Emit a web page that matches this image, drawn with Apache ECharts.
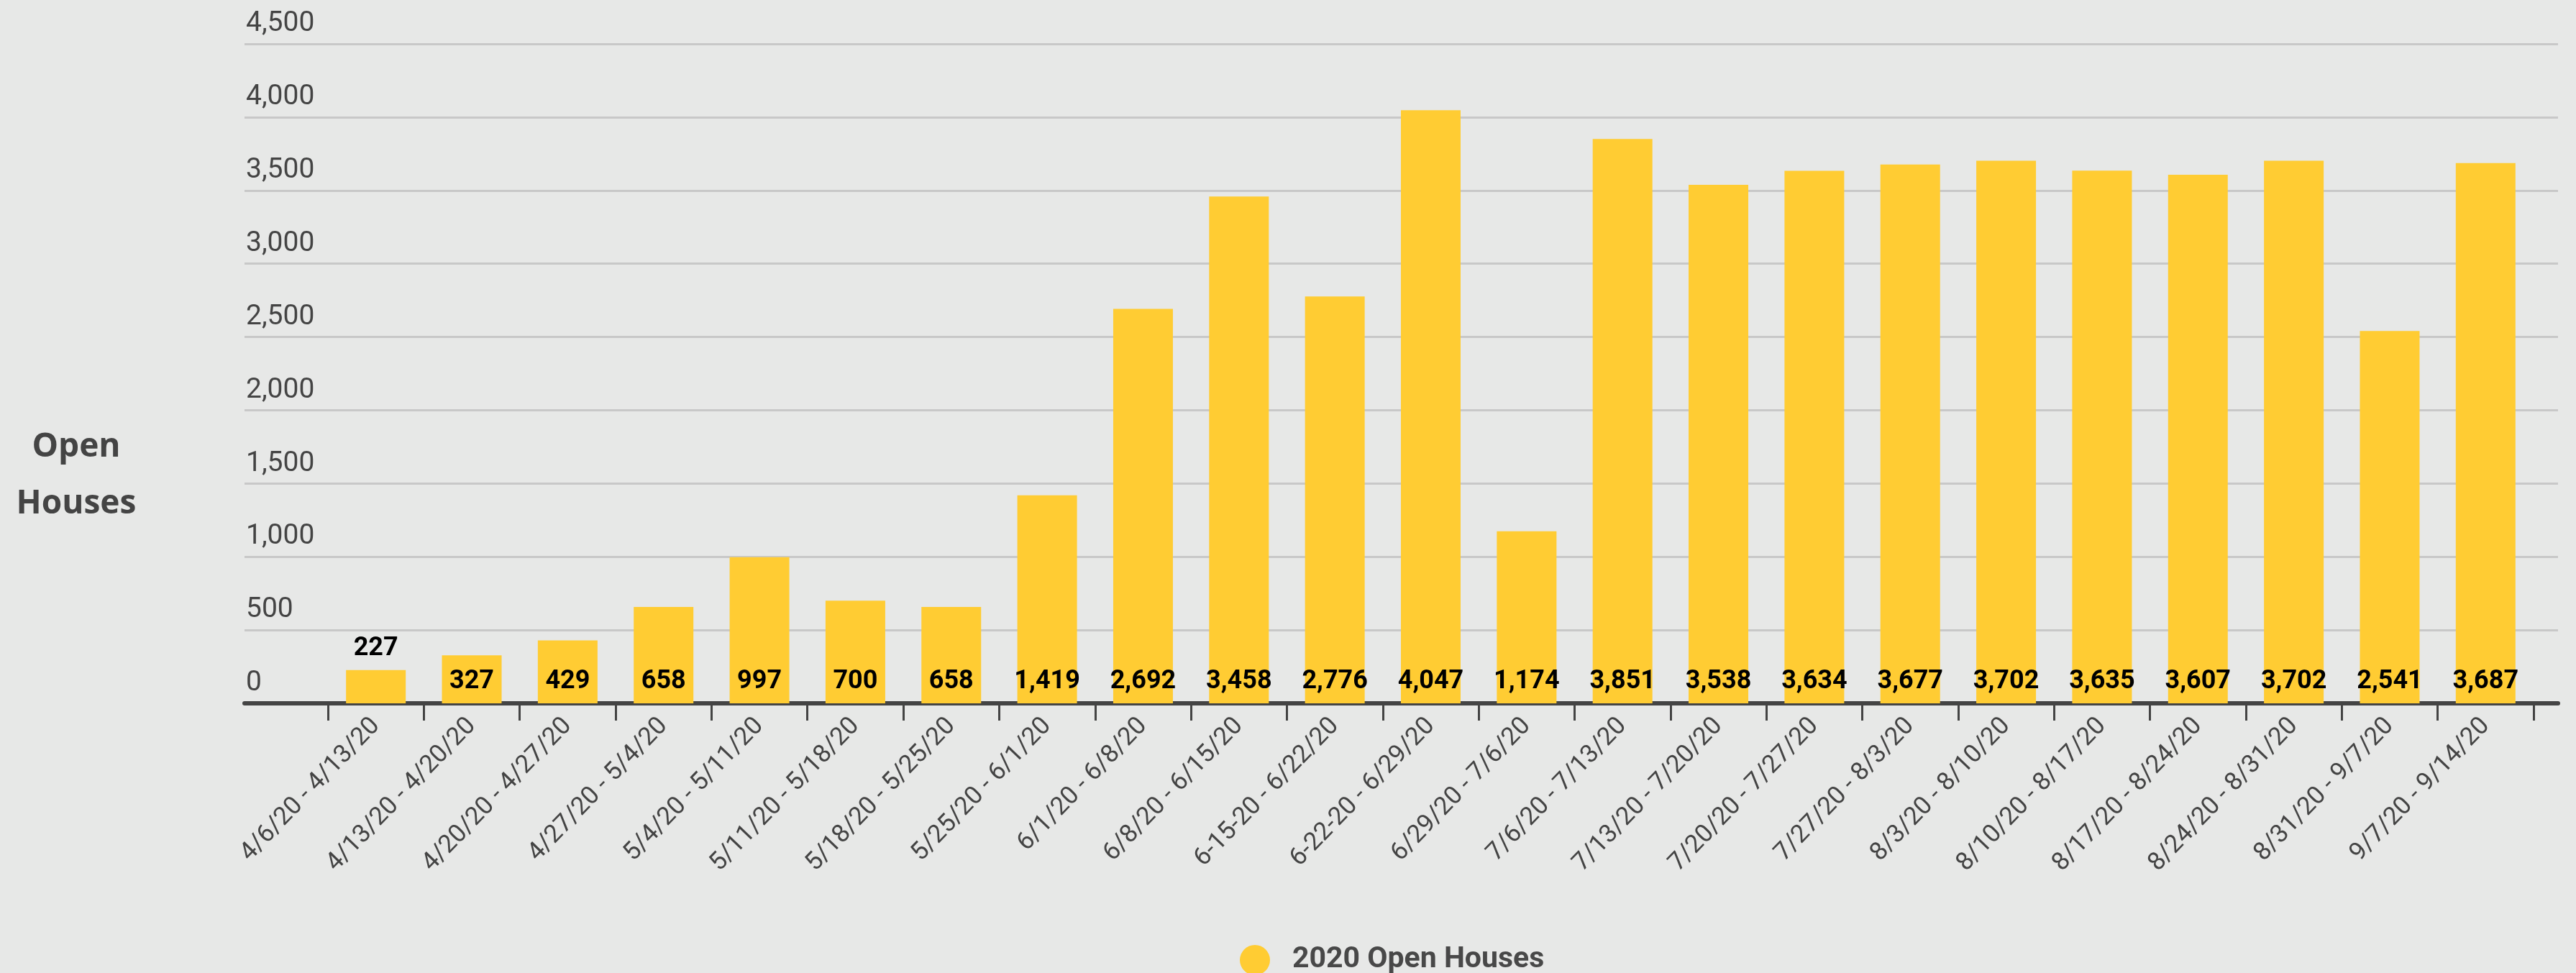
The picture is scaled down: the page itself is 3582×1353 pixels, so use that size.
<!DOCTYPE html>
<html>
<head>
<meta charset="utf-8">
<title>2020 Open Houses</title>
<script src="https://cdn.jsdelivr.net/npm/echarts@6/dist/echarts.min.js"></script>
<style>
  html, body { margin: 0; padding: 0; background: #e7e8e7; }
  #chart { width: 3582px; height: 1353px; }
</style>
</head>
<body>
<div id="chart"></div>
<script>
// weekly ranges shown on the x axis
const weeks = [
  '4/6/20 - 4/13/20', '4/13/20 - 4/20/20', '4/20/20 - 4/27/20', '4/27/20 - 5/4/20',
  '5/4/20 - 5/11/20', '5/11/20 - 5/18/20', '5/18/20 - 5/25/20', '5/25/20 - 6/1/20',
  '6/1/20 - 6/8/20', '6/8/20 - 6/15/20', '6-15-20 - 6/22/20', '6-22-20 - 6/29/20',
  '6/29/20 - 7/6/20', '7/6/20 - 7/13/20', '7/13/20 - 7/20/20', '7/20/20 - 7/27/20',
  '7/27/20 - 8/3/20', '8/3/20 - 8/10/20', '8/10/20 - 8/17/20', '8/17/20 - 8/24/20',
  '8/24/20 - 8/31/20', '8/31/20 - 9/7/20', '9/7/20 - 9/14/20'
];
const openHouses = [
  227, 327, 429, 658, 997, 700, 658, 1419, 2692, 3458, 2776, 4047,
  1174, 3851, 3538, 3634, 3677, 3702, 3635, 3607, 3702, 2541, 3687
];
const seriesName = '2020 Open Houses';
const yMax = 4500;
const yStep = 500;

const narrow = "'Liberation Sans Narrow', 'Arial Narrow', Roboto, sans-serif";
const fmt = v => Number(v).toLocaleString('en-US');

const chart = echarts.init(document.getElementById('chart'));

// small bars get their label above the bar
const barData = openHouses.map(v => v < 250 ? { value: v, label: { position: 'top', distance: 12 } } : v);

chart.setOption({
  backgroundColor: '#e7e8e7',
  animation: false,
  graphic: [{
    type: 'text',
    style: {
      text: 'Open\nHouses',
      x: 106,
      y: 582,
      align: 'center',
      verticalAlign: 'top',
      fontSize: 46,
      fontWeight: 'bold',
      fontFamily: "'Open Sans', sans-serif",
      lineHeight: 79,
      fill: '#444'
    }
  }],
  legend: {
    data: [seriesName],
    left: 1719,
    top: 1309,
    icon: 'circle',
    itemWidth: 42,
    itemHeight: 42,
    textStyle: {
      fontSize: 41,
      fontWeight: 'bold',
      fontFamily: narrow,
      color: '#484848',
      padding: [0, 0, 0, 26]
    }
  },
  grid: [
    { left: 340, right: 25, top: 61, bottom: 375 },
    { left: 456, right: 59, top: 61, bottom: 375 }
  ],
  xAxis: [
    {
      gridIndex: 0,
      type: 'value',
      min: 0,
      max: 1,
      axisLine: { show: true, lineStyle: { color: '#444', width: 6 } },
      axisTick: { show: false },
      axisLabel: { show: false },
      splitLine: { show: false }
    },
    {
      gridIndex: 1,
      type: 'category',
      data: weeks,
      axisLine: { show: false },
      axisTick: { show: true, length: 24, lineStyle: { color: '#444', width: 3 } },
      axisLabel: {
        interval: 0,
        rotate: 46,
        margin: 26,
        fontSize: 35,
        fontFamily: narrow,
        color: '#444'
      }
    }
  ],
  yAxis: [
    {
      gridIndex: 0,
      type: 'value',
      min: 0,
      max: yMax,
      interval: yStep,
      axisLine: { show: false },
      axisTick: { show: false },
      splitLine: { lineStyle: { color: '#c8c8c8', width: 3 } },
      axisLabel: {
        inside: true,
        margin: 2,
        verticalAlign: 'bottom',
        padding: [0, 0, 8, 0],
        fontSize: 39,
        fontFamily: narrow,
        color: '#444',
        formatter: fmt
      }
    },
    { gridIndex: 1, type: 'value', min: 0, max: yMax, show: false }
  ],
  series: [{
    name: seriesName,
    type: 'bar',
    xAxisIndex: 1,
    yAxisIndex: 1,
    barWidth: 83,
    data: barData,
    itemStyle: { color: '#ffcc33' },
    label: {
      show: true,
      position: 'insideBottom',
      distance: 12,
      fontSize: 36,
      fontWeight: 'bold',
      fontFamily: narrow,
      color: '#000',
      formatter: p => fmt(p.value)
    }
  }]
});
</script>
</body>
</html>
